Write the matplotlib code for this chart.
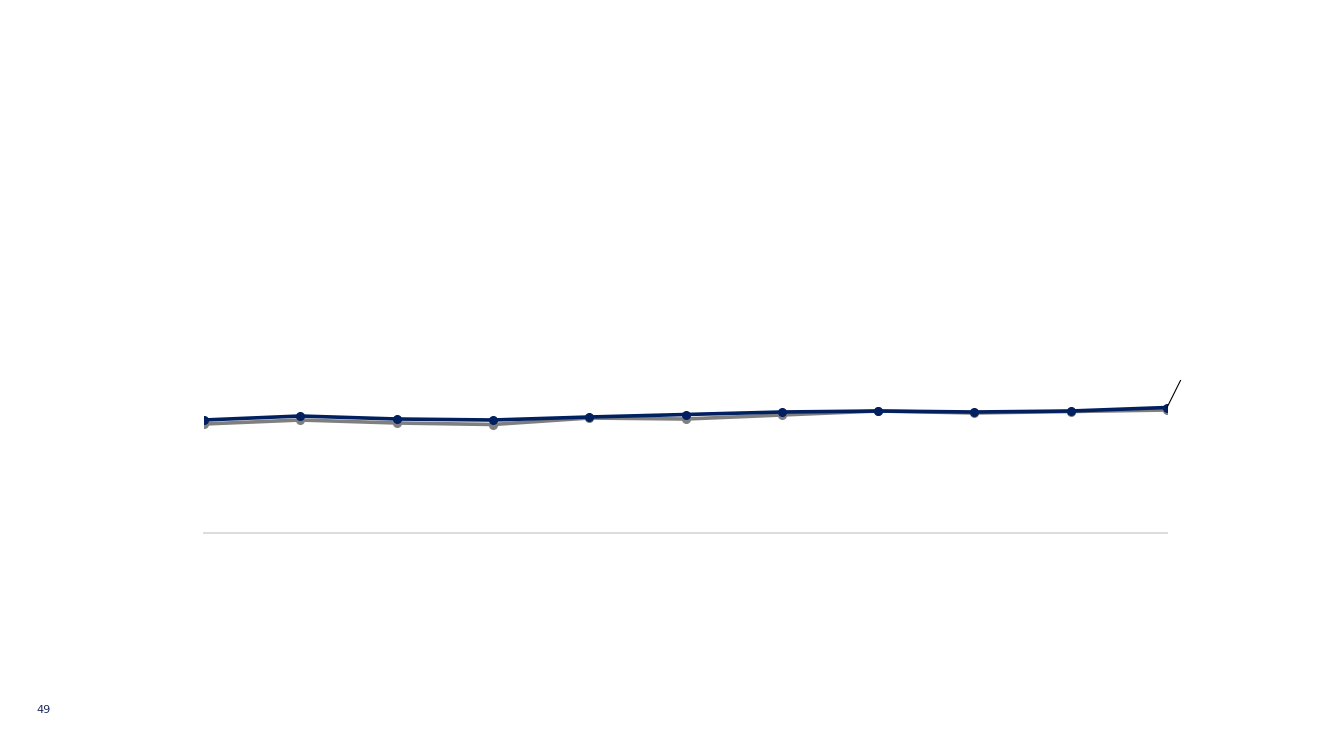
import matplotlib.pyplot as plt

# eleven periods, no labels shown on the slide
periods = list(range(11))
series_blue = [113, 117, 114, 113, 116, 118.5, 121, 122, 121, 122, 125.5]
series_gray = [109, 113, 110, 108.5, 115, 114, 118, 122, 120, 121.5, 123]

fig = plt.figure(figsize=(13.33, 7.5), dpi=100)
ax = fig.add_axes([204 / 1333, 217 / 750, 963 / 1333, 400 / 750])

ax.plot(periods, series_gray, color="#7f7f7f", lw=2.6, marker="o", ms=5.5,
        solid_capstyle="round", zorder=2)
ax.plot(periods, series_blue, color="#002060", lw=2.6, marker="o", ms=5.5,
        solid_capstyle="round", zorder=3)

# leader line from the last point
ax.plot([10, 10.14], [series_blue[-1], series_blue[-1] + 27], color="black",
        lw=0.8, clip_on=False, zorder=4)

ax.set_xlim(0, 10)
ax.set_ylim(0, 400)
for side in ["top", "right", "left"]:
    ax.spines[side].set_visible(False)
ax.spines["bottom"].set_color("#d9d9d9")
ax.spines["bottom"].set_linewidth(1.3)
ax.set_xticks([])
ax.set_yticks([])
ax.patch.set_alpha(0)

fig.text(44 / 1333, 1 - 710 / 750, "49", color="#1f2a5c", fontsize=8,
         ha="center", va="center")

fig.savefig("out.png", dpi=100)
